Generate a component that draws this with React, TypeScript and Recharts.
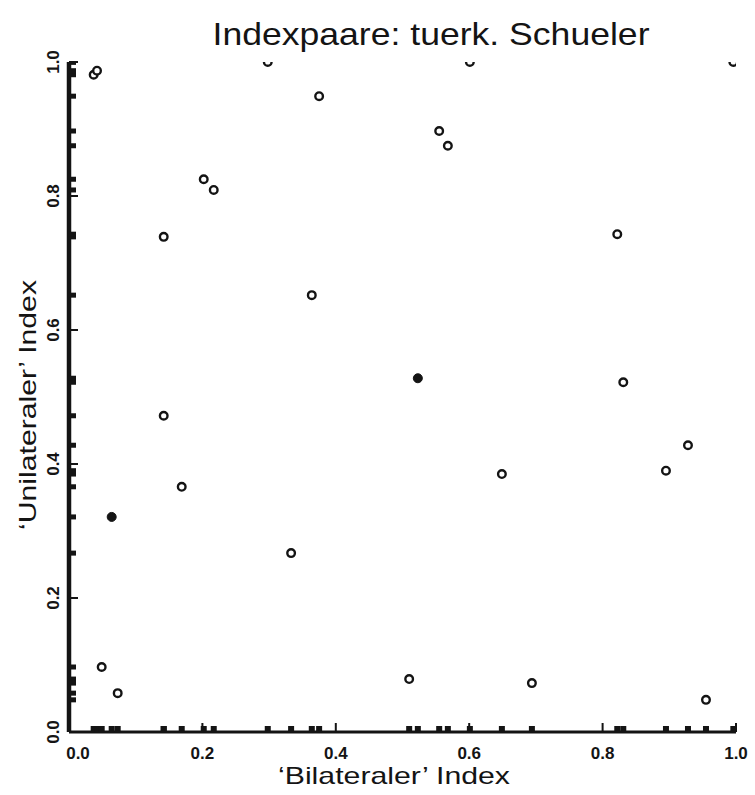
import { ScatterChart, Scatter, XAxis, YAxis } from "recharts";

// Indexpaare (bilateral, unilateral)
const bilateralOpen = [
  0.037, 0.042, 0.298, 0.601, 0.996, 0.375, 0.555, 0.568, 0.202, 0.217, 0.142,
  0.822, 0.364, 0.831, 0.142, 0.928, 0.649, 0.895, 0.169, 0.333, 0.049, 0.073,
  0.51, 0.694, 0.955,
];
const unilateralOpen = [
  0.981, 0.987, 1.0, 1.0, 1.0, 0.949, 0.897, 0.875, 0.825, 0.809, 0.739, 0.743,
  0.652, 0.522, 0.472, 0.428, 0.385, 0.39, 0.366, 0.267, 0.097, 0.058, 0.079,
  0.073, 0.048,
];
// doppelt belegte Punkte (gefuellt)
const bilateralDouble = [0.523, 0.064];
const unilateralDouble = [0.528, 0.321];

const ticks = [0, 0.2, 0.4, 0.6, 0.8, 1.0];
const tickLabels = ["0.0", "0.2", "0.4", "0.6", "0.8", "1.0"];

const openPoints = bilateralOpen.map((x, i) => ({ x, y: unilateralOpen[i] }));
const doublePoints = bilateralDouble.map((x, i) => ({ x, y: unilateralDouble[i] }));
const allX = [...bilateralOpen, ...bilateralDouble];
const allY = [...unilateralOpen, ...unilateralDouble];
const xRug = allX.map((x) => ({ x, y: 0 }));
const yRug = allY.map((y) => ({ x: 0, y }));

const ink = "#141414";
const font = "'Liberation Sans', Arial, sans-serif";

const XTick = (props: any) => {
  const { x, y, payload } = props;
  const label = tickLabels[ticks.indexOf(payload.value)] ?? String(payload.value);
  const shift = payload.value === 0 ? 9 : 0;
  return (
    <g>
      {payload.value !== 0 && (
        <line x1={x} x2={x} y1={y - 10} y2={y - 19} stroke={ink} strokeWidth={2} />
      )}
      <text
        x={x + shift}
        y={y + 17}
        textAnchor="middle"
        fontFamily={font}
        fontWeight="bold"
        fontSize={17}
        fill={ink}
      >
        {label}
      </text>
    </g>
  );
};

const YTick = (props: any) => {
  const { x, y, payload } = props;
  const label = tickLabels[ticks.indexOf(payload.value)] ?? String(payload.value);
  return (
    <g>
      {payload.value !== 0 && (
        <line x1={x + 10} x2={x + 19} y1={y} y2={y} stroke={ink} strokeWidth={2} />
      )}
      <text
        x={x}
        y={y}
        transform={`rotate(-90 ${x} ${y})`}
        textAnchor="middle"
        fontFamily={font}
        fontWeight="bold"
        fontSize={17}
        fill={ink}
      >
        {label}
      </text>
    </g>
  );
};

export default function App() {
  return (
    <div style={{ position: "absolute", left: 0, top: 0, width: 755, height: 795, background: "#fff" }}>
      <ScatterChart
        width={755}
        height={795}
        margin={{ top: 62, right: 19, bottom: 23, left: 9 }}
      >
        <XAxis
          type="number"
          dataKey="x"
          domain={[0, 1]}
          ticks={ticks}
          allowDataOverflow
          height={40}
          tickSize={6}
          tickMargin={4}
          tickLine={false}
          axisLine={{ stroke: ink, strokeWidth: 3 }}
          tick={<XTick />}
        />
        <YAxis
          type="number"
          dataKey="y"
          domain={[0, 1]}
          ticks={ticks}
          allowDataOverflow
          width={60}
          tickSize={6}
          tickMargin={4}
          tickLine={false}
          axisLine={{ stroke: ink, strokeWidth: 4.5 }}
          tick={<YTick />}
        />
        <Scatter
          data={xRug}
          isAnimationActive={false}
          shape={(p: any) => (
            <rect x={p.cx - 3} y={p.cy - 6} width={6} height={6} fill={ink} />
          )}
        />
        <Scatter
          data={yRug}
          isAnimationActive={false}
          shape={(p: any) => (
            <rect x={p.cx} y={p.cy - 2.5} width={7} height={5} fill={ink} />
          )}
        />
        <Scatter
          data={openPoints}
          isAnimationActive={false}
          shape={(p: any) => (
            <circle cx={p.cx} cy={p.cy} r={3.8} fill="#fff" stroke={ink} strokeWidth={2.4} />
          )}
        />
        <Scatter
          data={doublePoints}
          isAnimationActive={false}
          shape={(p: any) => (
            <circle cx={p.cx} cy={p.cy} r={4.5} fill={ink} stroke={ink} strokeWidth={1} />
          )}
        />
      </ScatterChart>
      <svg
        width={755}
        height={795}
        style={{ position: "absolute", left: 0, top: 0, pointerEvents: "none" }}
      >
        <text
          x={431}
          y={45}
          textAnchor="middle"
          fontFamily={font}
          fontSize={32}
          fill={ink}
          textLength={437}
          lengthAdjust="spacingAndGlyphs"
        >
          Indexpaare: tuerk. Schueler
        </text>
        <text
          x={394}
          y={784}
          textAnchor="middle"
          fontFamily={font}
          fontSize={24}
          fill={ink}
          textLength={232}
          lengthAdjust="spacingAndGlyphs"
        >
          ‘Bilateraler’ Index
        </text>
        <text
          x={36}
          y={405}
          transform="rotate(-90 36 405)"
          textAnchor="middle"
          fontFamily={font}
          fontSize={24}
          fill={ink}
          textLength={250}
          lengthAdjust="spacingAndGlyphs"
        >
          ‘Unilateraler’ Index
        </text>
      </svg>
    </div>
  );
}
